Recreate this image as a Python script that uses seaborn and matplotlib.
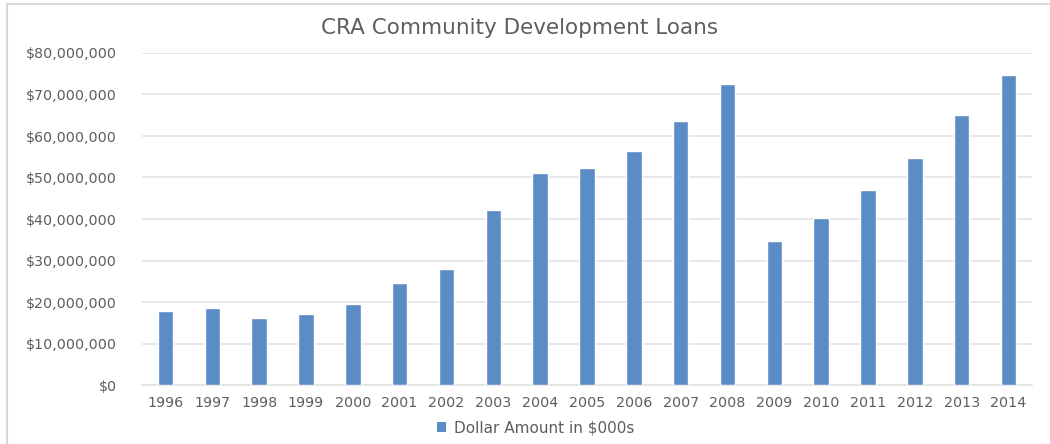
import matplotlib
matplotlib.use("Agg")
import matplotlib.pyplot as plt
import matplotlib.ticker as mticker
from matplotlib.patches import Patch
from matplotlib.lines import Line2D
import seaborn as sns
import pandas as pd

years = ["1996", "1997", "1998", "1999", "2000", "2001", "2002", "2003", "2004", "2005",
         "2006", "2007", "2008", "2009", "2010", "2011", "2012", "2013", "2014"]
loans = [17.8, 18.6, 16.1, 17.1, 19.5, 24.6, 27.9, 42.2, 51.2, 52.4,
         56.4, 63.7, 72.5, 34.8, 40.2, 47.0, 54.7, 65.1, 74.7]  # millions
series_name = "Dollar Amount in $000s"
title = "CRA Community Development Loans"

df = pd.DataFrame({"year": years, "amount": [v * 1_000_000 for v in loans]})

sns.set_theme(style="white")
plt.rcParams["font.family"] = ["DejaVu Sans"]

text_gray = "#5E5E5E"
bar_color = "#5B8CC6"
grid_gray = "#E4E4E4"

fig = plt.figure(figsize=(10.5, 4.44), dpi=100)
ax = fig.add_axes([142 / 1050, 1 - 385 / 444, 890 / 1050, 332 / 444])

sns.barplot(data=df, x="year", y="amount", color=bar_color, width=0.33,
            saturation=1, ax=ax, zorder=3)

ax.set_ylim(0, 80_000_000)
ax.set_xlim(-0.5, len(years) - 0.5)
ax.yaxis.set_major_locator(mticker.MultipleLocator(10_000_000))
ax.yaxis.set_major_formatter(mticker.FuncFormatter(lambda v, p: f"${v:,.0f}"))
ax.grid(axis="y", color=grid_gray, linewidth=1.2, zorder=0)
ax.grid(axis="x", visible=False)
for s in ["top", "right", "left"]:
    ax.spines[s].set_visible(False)
ax.spines["bottom"].set_color(grid_gray)
ax.spines["bottom"].set_linewidth(1.2)
ax.tick_params(axis="both", length=0, colors=text_gray, labelsize=10.3)
ax.tick_params(axis="y", pad=18)
ax.tick_params(axis="x", pad=8)
ax.set_xlabel("")
ax.set_ylabel("")

fig.text(0.495, 1 - 28 / 444, title, ha="center", va="center",
         fontsize=15.5, color=text_gray)

handle = Patch(facecolor=bar_color, edgecolor="none")
fig.legend([handle], [series_name], loc="center", bbox_to_anchor=(0.51, 1 - 428 / 444),
           frameon=False, fontsize=11, labelcolor=text_gray,
           handlelength=0.65, handleheight=0.65, handletextpad=0.5)

# chart-area frame: top and left edges
frame_kw = dict(transform=fig.transFigure, color="#D9D9D9", linewidth=1.5)
fig.add_artist(Line2D([7 / 1050, 1.0], [1 - 4 / 444, 1 - 4 / 444], **frame_kw))
fig.add_artist(Line2D([7 / 1050, 7 / 1050], [0.0, 1 - 4 / 444], **frame_kw))

fig.savefig("out.png", dpi=100)
